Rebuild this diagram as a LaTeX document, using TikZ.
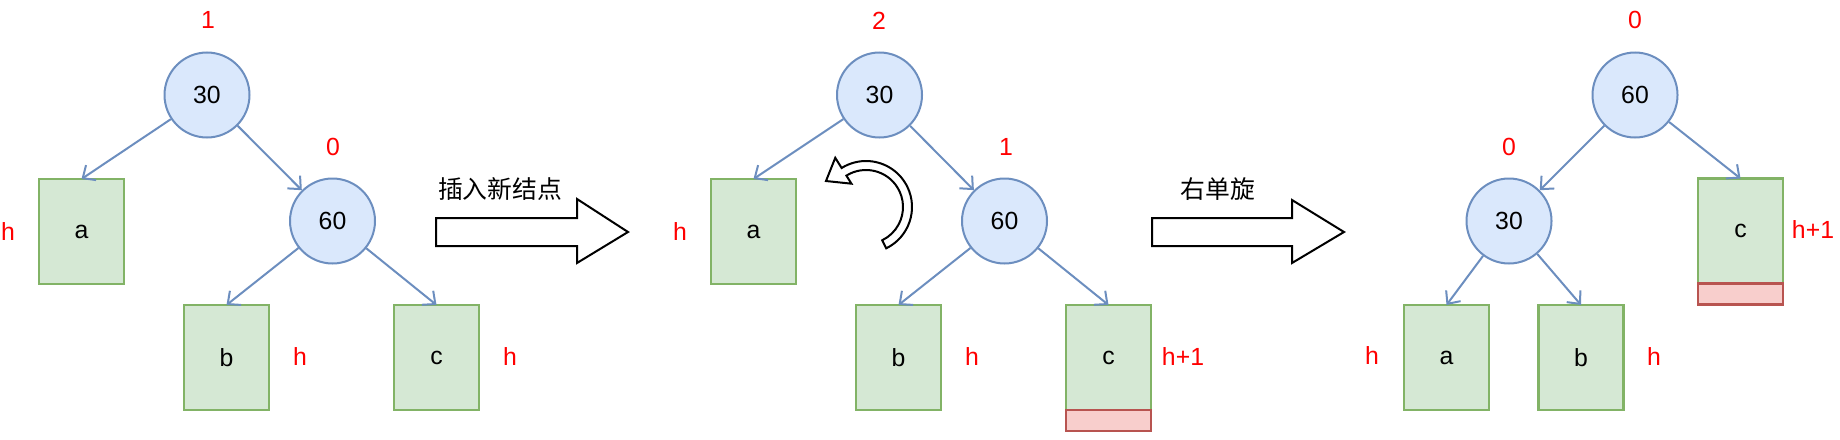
\documentclass[tikz,border=0pt]{standalone}
\usepackage{fontspec}
\setmainfont{Liberation Sans}
\newfontfamily\cjk{Noto Sans CJK SC}
\usepackage{tikz}
\usetikzlibrary{arrows.meta,positioning}
\definecolor{nodeblue}{HTML}{DAE8FC}
\definecolor{lineblue}{HTML}{6C8EBF}
\definecolor{boxgreen}{HTML}{D5E8D4}
\definecolor{linegreen}{HTML}{82B366}
\definecolor{boxred}{HTML}{F8CECC}
\definecolor{linered}{HTML}{B85450}

\begin{document}
\begin{tikzpicture}[x=0.5pt,y=0.5pt,yscale=-1,xscale=1,
    font=\fontsize{12.4}{14}\selectfont,
    treenode/.style={circle,draw=lineblue,fill=nodeblue,line width=1pt,minimum size=42.5pt,inner sep=0pt},
    subtree/.style={rectangle,draw=linegreen,fill=boxgreen,line width=1.1pt,minimum width=42.5pt,minimum height=52.5pt,inner sep=0pt,outer sep=0pt},
    extra/.style={rectangle,draw=linered,fill=boxred,line width=1.1pt,minimum width=42.5pt,minimum height=10.5pt,inner sep=0pt,outer sep=0pt},
    bal/.style={text=red,inner sep=0.75pt},
    edge/.style={draw=lineblue,line width=1pt,-{Straight Barb[length=5pt,width=9pt]}},
    bigarrow/.style={draw=black,fill=white,line width=1pt,line join=miter}]
        \useasboundingbox (0,0) rectangle (1840,439);

        %Left tree
        \node[treenode] (L30) at (207,95) {30};
        \node[treenode] (L60) at (332.5,221) {60};
        \node[subtree] (La) at (81.5,231.5) {a};
        \node[subtree] (Lb) at (226.5,357.5) {b};
        \node[subtree] (Lc) at (436.5,357.5) {c};
        \draw[edge] (L30) -- (La.north);
        \draw[edge] (L30) -- (L60);
        \draw[edge] (L60) -- (Lb.north);
        \draw[edge] (L60) -- (Lc.north);
        % Text Node
        \node[bal] (Lb30) at (208,20) {1};
        \node[bal] (Lb60) at (333,147) {0};
        \node[bal] (Lha) at (8,232) {h};
        \node[bal] (Lhb) at (300,357) {h};
        \node[bal] (Lhc) at (510,357) {h};

        %Shape: Right Arrow
        \draw[bigarrow] (436,218) -- (577,218) -- (577,199) -- (628,232) -- (577,263) -- (577,246) -- (436,246) -- cycle;
        % Text Node
        \node (ins) at (500,189) {\cjk 插入新结点};

        %Middle tree
        \node[treenode] (M30) at (879.5,95) {30};
        \node[treenode] (M60) at (1004.5,221) {60};
        \node[subtree] (Ma) at (753.5,231.5) {a};
        \node[subtree] (Mb) at (898.5,357.5) {b};
        \node[subtree] (Mc) at (1108.5,357.5) {c};
        \node[extra, below=0pt of Mc] (Mnew) {};
        \draw[edge] (M30) -- (Ma.north);
        \draw[edge] (M30) -- (M60);
        \draw[edge] (M60) -- (Mb.north);
        \draw[edge] (M60) -- (Mc.north);
        % Text Node
        \node[bal] (Mb30) at (879,21) {2};
        \node[bal] (Mb60) at (1006,147) {1};
        \node[bal] (Mha) at (680,232) {h};
        \node[bal] (Mhb) at (972,357) {h};
        \node[bal] (Mhc) at (1183,357) {h+1};

        %Shape: Curved Arrow
        \begin{scope}[shift={(866,207)},yscale=-1]
            \draw[bigarrow] (-64:46) arc[start angle=-64,end angle=122,radius=46]
                -- (122:58) -- (147:47.7) -- (122:27.5) -- (122:37)
                arc[start angle=122,end angle=-64,radius=37] -- cycle;
        \end{scope}

        %Shape: Right Arrow
        \draw[bigarrow] (1152,218) -- (1292,218) -- (1292,200) -- (1344,232) -- (1292,263) -- (1292,246) -- (1152,246) -- cycle;
        % Text Node
        \node (rot) at (1218,189) {\cjk 右单旋};

        %Right tree
        \node[treenode] (R60) at (1635,95) {60};
        \node[treenode] (R30) at (1509,221) {30};
        \node[subtree] (Rc) at (1740.5,231) {c};
        \node[extra, below=0pt of Rc] (Rnew) {};
        \node[subtree] (Ra) at (1446.5,357.5) {a};
        \node[subtree] (Rb) at (1581,357.5) {b};
        \draw[edge] (R60) -- (R30);
        \draw[edge] (R60) -- (Rc.north);
        \draw[edge] (R30) -- (Ra.north);
        \draw[edge] (R30) -- (Rb.north);
        % Text Node
        \node[bal] (Rb60) at (1635,20) {0};
        \node[bal] (Rb30) at (1509,147) {0};
        \node[bal] (Rhc) at (1813,230) {h+1};
        \node[bal] (Rha) at (1372,356) {h};
        \node[bal] (Rhb) at (1654,357) {h};
\end{tikzpicture}
\end{document}
